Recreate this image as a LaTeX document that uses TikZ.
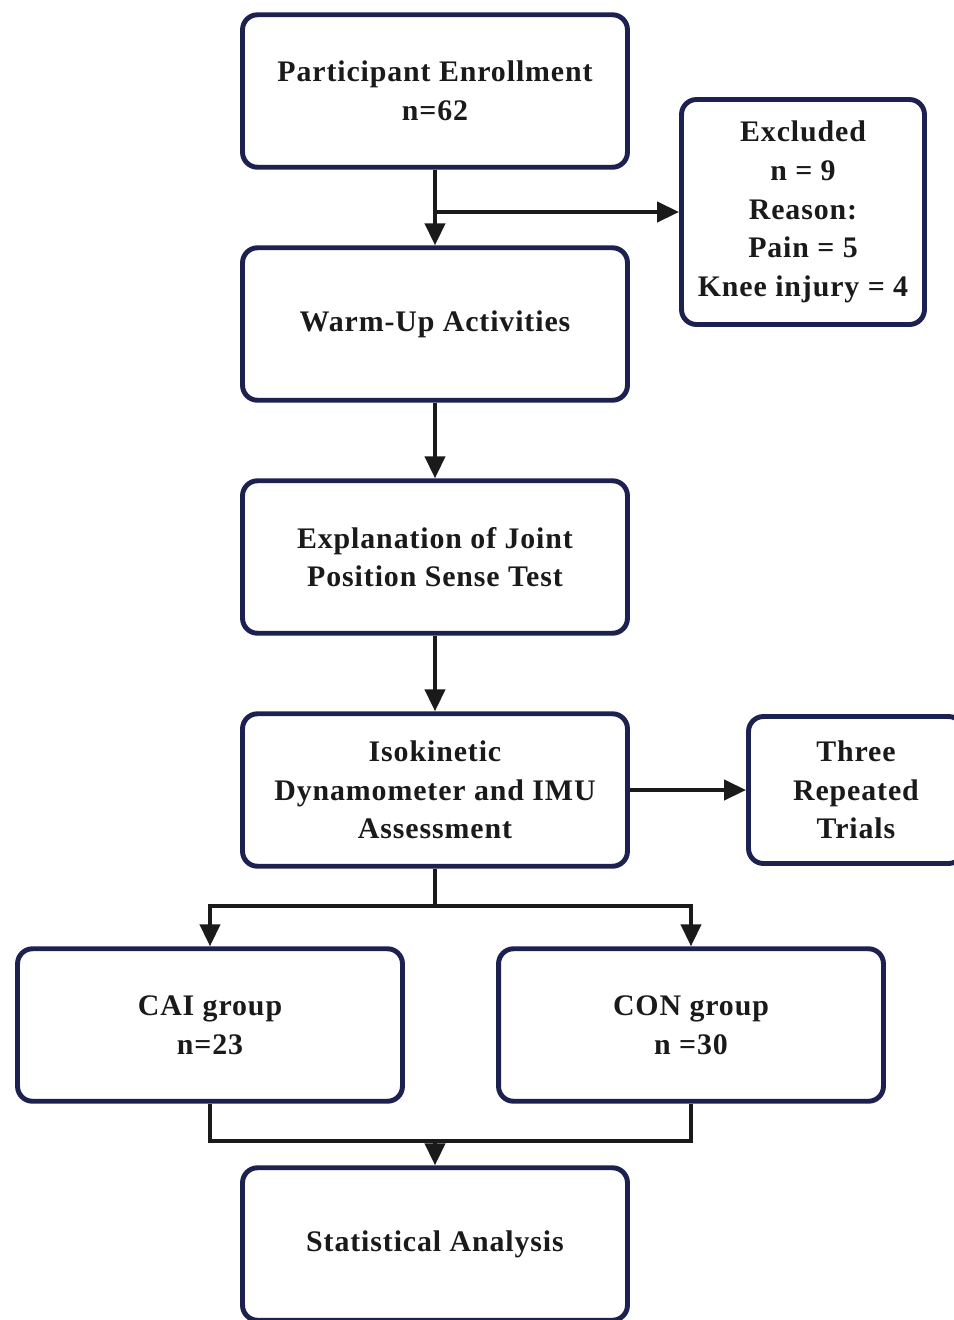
\documentclass[tikz,border=0pt]{standalone}
\usepackage{fontspec}
\setmainfont{Liberation Serif}[LetterSpace=3]
\usepackage{xcolor}
\usepackage{tikz}
\usetikzlibrary{arrows.meta,positioning,calc}
\definecolor{boxnavy}{HTML}{1C2150}
\definecolor{inkblack}{HTML}{1A1A1A}
\tikzset{
  stagebox/.style={draw=boxnavy,line width=2.8pt,fill=white,rounded corners=0.3cm,align=center,
    minimum width=7.7cm,minimum height=3.05cm,text=inkblack,
    font=\fontsize{17}{22}\selectfont\bfseries},
  sidebox/.style={stagebox,minimum width=4.86cm},
  flowline/.style={line width=2.3pt,draw=inkblack},
  flowarrow/.style={flowline,-{Triangle[length=0.44cm,width=0.4cm]}}
}

\begin{document}
\begin{tikzpicture}[x=0.02cm,y=-0.02cm]
  \clip (0,0) rectangle (954,1320);
  \fill[white] (0,0) rectangle (954,1320);
  \node[stagebox] (enroll) at (435,91) {Participant Enrollment\\n=62};
  \node[sidebox,minimum height=4.5cm] (excl) at (803,212)
    {Excluded\\n = 9\\Reason:\\Pain = 5\\Knee injury = 4};
  \node[stagebox] (warmup) at (435,324) {Warm-Up Activities};
  \node[stagebox] (explain) at (435,557) {Explanation of Joint\\Position Sense Test};
  \node[stagebox] (iso) at (435,790) {Isokinetic\\Dynamometer and IMU\\Assessment};
  \node[sidebox,minimum width=4.3cm,minimum height=2.94cm] (trials) at (856,790) {Three\\Repeated\\Trials};
  \node[stagebox] (cai) at (210,1025) {CAI group\\n=23};
  \node[stagebox] (con) at (691,1025) {CON group\\n =30};
  \node[stagebox] (stat) at (435,1244) {Statistical Analysis};
  \coordinate (split) at (435,906);
  \coordinate (merge) at (435,1141);
  % main flow
  \draw[flowarrow] (enroll) -- (warmup);
  \draw[flowarrow] (enroll.south |- excl.west) -- (excl.west);
  \draw[flowarrow] (warmup) -- (explain);
  \draw[flowarrow] (explain) -- (iso);
  \draw[flowarrow] (iso.east) -- (trials.west);
  % groups
  \draw[flowline] (iso.south) -- (split);
  \draw[flowarrow] (split) -| (cai.north);
  \draw[flowarrow] (split) -| (con.north);
  \draw[flowline] (cai.south) |- (merge) -| (con.south);
  \draw[flowarrow] (merge) -- (stat.north);
\end{tikzpicture}
\end{document}
